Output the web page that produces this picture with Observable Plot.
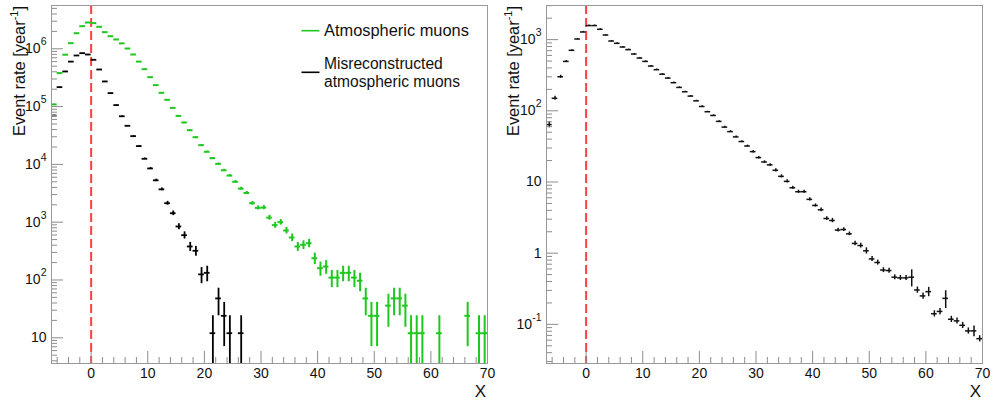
<!DOCTYPE html>
<html><head><meta charset="utf-8">
<script src="https://cdn.jsdelivr.net/npm/d3@7"></script>
<script src="https://cdn.jsdelivr.net/npm/@observablehq/plot@0.6"></script>
<style>
body{margin:0;background:#fff;}
#wrap{position:relative;width:999px;height:402px;font-family:"Liberation Sans",Arial,sans-serif;}
#wrap svg{position:absolute;top:0;}
</style></head><body><div id="wrap"></div>
<script>
// ---- data (bins of width 1 from -7 to 70) ----
const binStart = d3.range(-7, 70);
const atmMuons = [
  1.09e5, 3.8e5, 7.9e5, 1.25e6, 1.86e6, 2.46e6, 2.85e6,
  2.78e6, 2.4e6, 1.94e6, 1.65e6, 1.45e6, 1.24e6, 1.01e6, 7.96e5, 6.0e5, 4.44e5,
  3.23e5, 2.35e5, 1.73e5, 1.31e5, 9.5e4, 6.9e4, 5.3e4, 3.9e4, 2.95e4, 2.15e4,
  1.65e4, 1.28e4, 1.02e4, 7.9e3, 6.4e3, 5.0e3, 3.8e3, 3.2e3, 2130, 1770,
  1790, 1200, 888, 1000, 718, 543, 380, 406, 433, 238,
  160, 171, 110, 110, 133, 133, 110, 97, 48, 24,
  24, null, 36, 48, 48, 36, 12, 12, 12, null,
  null, 12, null, null, null, null, 24, null, 12, 12
];
const misrecoMuons = [
  7.0e4, 2.17e5, 4.05e5, 6.0e5, 7.66e5, 8.4e5, 7.96e5,
  6.45e5, 4.38e5, 2.72e5, 1.71e5, 1.06e5, 6.8e4, 4.65e4, 3.08e4, 2.07e4, 1.25e4,
  8.5e3, 5.3e3, 3.7e3, 2130, 1430, 843, 596, 380, 320, 125,
  133, 12, 48, 24, 12, null, 12, null, null, null,
  null, null, null, null, null, null, null, null, null, null,
  null, null, null, null, null, null, null, null, null, null,
  null, null, null, null, null, null, null, null, null, null,
  null, null, null, null, null, null, null, null, null, null
];
const eventWeight = 12; // rate carried by one simulated event (left panel)
const rightRate = [
  64, 150, 301, 494, 707, 1019, 1280,
  1574, 1574, 1396, 1160, 955, 887, 787, 723, 627, 551,
  494, 425, 378, 327, 288, 248, 213, 185, 161, 138,
  115, 97, 86, 71, 59, 51, 43, 37, 32, 26.7,
  22, 19.1, 17.4, 14.6, 12, 10.2, 8.3, 7.3, 7.3, 5.7,
  4.68, 4.07, 3.07, 2.88, 2.11, 2.15, 1.87, 1.37, 1.28, 1.08,
  0.83, 0.74, 0.58, 0.57, 0.46, 0.45, 0.45, 0.46, 0.304, 0.251,
  0.288, 0.141, 0.152, 0.232, 0.118, 0.112, 0.097, 0.081, 0.081, 0.063
];
const rightRelErr = [
  0.10, 0.065, 0.05, 0.03, 0.02, 0.02, 0.02,
  0.02, 0.02, 0.02, 0.02, 0.02, 0.02, 0.02, 0.02, 0.02, 0.02,
  0.02, 0.02, 0.02, 0.02, 0.02, 0.02, 0.02, 0.02, 0.02, 0.02,
  0.02, 0.02, 0.02, 0.02, 0.03, 0.03, 0.03, 0.03, 0.03, 0.04,
  0.04, 0.04, 0.04, 0.05, 0.05, 0.05, 0.05, 0.05, 0.05, 0.05,
  0.05, 0.06, 0.06, 0.07, 0.06, 0.06, 0.06, 0.07, 0.08, 0.1,
  0.08, 0.08, 0.08, 0.08, 0.08, 0.08, 0.08, 0.27, 0.1, 0.1,
  0.15, 0.1, 0.1, 0.28, 0.1, 0.1, 0.1, 0.1, 0.17, 0.1
];
const xTickLabels = [0, 10, 20, 30, 40, 50, 60, 70];
const xMinorTicks = d3.range(-6, 70, 2).filter(v => v % 10 !== 0);
const leftDecades = [1, 2, 3, 4, 5, 6];
const rightDecades = [-1, 0, 1, 2, 3];
const legendLabels = ["Atmospheric muons", ["Misreconstructed", "atmospheric muons"]];
const yTitle = "Event rate [year";
const xTitle = "X";

const FONT = '"Liberation Sans", Arial, Helvetica, sans-serif';
const GREEN = "#1ec81e";
const AXC = "#8c8c8c";
const H = 402, MT = 5, MB = 39;

function rows(values, errFn) {
  return binStart.map((b, i) => {
    const v = values[i];
    if (v == null) return null;
    const e = errFn(v, i);
    return {x0: b, x1: b + 1, xc: b + 0.5, v, lo: Math.max(v - e, 1e-6), hi: v + e};
  }).filter(d => d);
}

function fmtPow(d) {
  const p = Math.round(Math.log10(d));
  if (p === 0) return "1";
  if (p === 1) return "10";
  return "10^" + p;
}

function panel({width, ml, mr, yDomain, decades, series}) {
  const fw = width - ml - mr, fh = H - MT - MB;
  const majorY = decades.map(p => Math.pow(10, p));
  const minorY = [];
  for (let p = decades[0] - 1; p <= decades[decades.length - 1]; p++)
    for (let k = 2; k <= 9; k++) {
      const v = k * Math.pow(10, p);
      if (v > yDomain[0] && v < yDomain[1]) minorY.push(v);
    }
  const dataMarks = [];
  for (const s of series) {
    dataMarks.push(Plot.ruleY(s.data, {y: "v", x1: "x0", x2: "x1", stroke: s.color, strokeWidth: s.sw, clip: true}));
    dataMarks.push(Plot.ruleX(s.data, {x: "xc", y1: "lo", y2: "hi", stroke: s.color, strokeWidth: s.sw, clip: true}));
  }
  const svg = Plot.plot({
    width, height: H, marginLeft: ml, marginRight: mr, marginTop: MT, marginBottom: MB,
    x: {domain: [-7, 70]},
    y: {type: "log", domain: yDomain},
    style: {fontSize: "14px", fontFamily: FONT, color: "#111", background: "transparent", overflow: "visible"},
    marks: [
      Plot.ruleX([0], {stroke: "#ff4040", strokeWidth: 2, strokeDasharray: "9,4"}),
      ...dataMarks,
      Plot.tickY(majorY, {y: d => d, insetRight: fw - 12, stroke: AXC}),
      Plot.tickY(minorY, {y: d => d, insetRight: fw - 6, stroke: AXC}),
      Plot.tickX(xTickLabels, {x: d => d, insetTop: fh - 12, stroke: AXC}),
      Plot.tickX(xMinorTicks, {x: d => d, insetTop: fh - 6, stroke: AXC}),
      Plot.axisX({ticks: xTickLabels, tickSize: 0, tickPadding: 5, label: null, tickFormat: d => String(d)}),
      Plot.axisY({ticks: majorY, tickSize: 0, tickPadding: 5, label: null, tickFormat: fmtPow}),
      Plot.frame({stroke: "#999"})
    ]
  });
  const ns = "http://www.w3.org/2000/svg";
  d3.select(svg).selectAll('g[aria-label="y-axis tick label"] text').each(function () {
    const parts = this.textContent.split("^");
    if (parts.length === 2) {
      this.textContent = parts[0];
      const ts = document.createElementNS(ns, "tspan");
      ts.setAttribute("dy", "-8");
      ts.setAttribute("font-size", "10.5");
      ts.textContent = parts[1];
      this.appendChild(ts);
    }
  });
  return svg;
}

const wrap = document.getElementById("wrap");
const left = panel({
  width: 499, ml: 51, mr: 12, yDomain: [3.59, 5.61e6], decades: leftDecades,
  series: [
    {data: rows(atmMuons, v => Math.sqrt(v * eventWeight)), color: GREEN, sw: 2},
    {data: rows(misrecoMuons, v => Math.sqrt(v * eventWeight)), color: "#000", sw: 1.8}
  ]
});
left.style.left = "0px";
wrap.appendChild(left);
const right = panel({
  width: 500, ml: 47, mr: 17, yDomain: [0.0282, 3015], decades: rightDecades,
  series: [{data: rows(rightRate, (v, i) => v * rightRelErr[i]), color: "#111", sw: 1.5}]
});
right.style.left = "499px";
wrap.appendChild(right);

// overlay: axis titles and legend
const ov = d3.select(wrap).append("svg").attr("width", 999).attr("height", H)
  .style("left", "0px").style("pointer-events", "none")
  .attr("font-family", FONT).attr("fill", "#111");
for (const bx of [25, 518.5]) {
  const t = ov.append("text").attr("transform", `translate(${bx},6) rotate(-90)`)
    .attr("text-anchor", "end").attr("font-size", 16.4);
  t.append("tspan").text(yTitle);
  t.append("tspan").attr("dy", -7).attr("font-size", 11).text("-1");
  t.append("tspan").attr("dy", 7).text("]");
}
for (const xr of [486, 981]) {
  ov.append("text").attr("x", xr).attr("y", 397).attr("text-anchor", "end").attr("font-size", 17).text(xTitle);
}
ov.append("line").attr("x1", 301.5).attr("x2", 319.5).attr("y1", 30.7).attr("y2", 30.7).attr("stroke", GREEN).attr("stroke-width", 1.6);
ov.append("text").attr("x", 324).attr("y", 36).attr("font-size", 16.4).text(legendLabels[0]);
ov.append("line").attr("x1", 301.5).attr("x2", 319.5).attr("y1", 72.3).attr("y2", 72.3).attr("stroke", "#000").attr("stroke-width", 1.6);
ov.append("text").attr("x", 324).attr("y", 68.5).attr("font-size", 15.6).text(legendLabels[1][0]);
ov.append("text").attr("x", 324).attr("y", 86.5).attr("font-size", 15.6).text(legendLabels[1][1]);
</script></body></html>
